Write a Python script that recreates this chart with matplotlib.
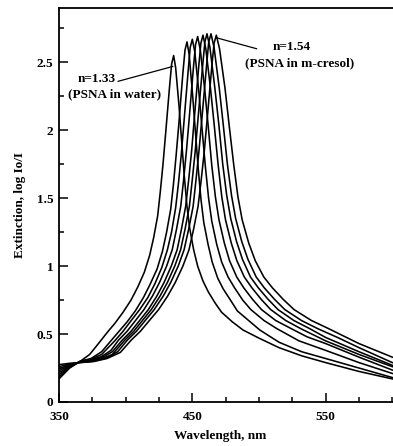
import matplotlib
matplotlib.use('Agg')
import matplotlib.pyplot as plt
from matplotlib.ticker import MultipleLocator, FormatStrFormatter

plt.rcParams['font.family'] = ['Liberation Serif', 'DejaVu Serif']
plt.rcParams['font.weight'] = 'bold'

# extinction spectra, from n = 1.33 (water) up to n = 1.54 (m-cresol)
wl_c1 = [350, 358, 366, 373, 380, 386, 392, 398, 404, 409, 414, 418, 421, 424, 426, 428, 430, 433, 434.5, 436,
         437.5, 440, 442, 444, 446, 448, 451, 454, 458, 462, 467, 472, 480, 488,
         500, 515, 532, 550, 575, 600]
ext_c1 = [0.17, 0.25, 0.30, 0.35, 0.435, 0.51, 0.58, 0.66, 0.75, 0.845, 0.955, 1.08, 1.21, 1.37, 1.55, 1.75, 1.98,
          2.33, 2.49, 2.55,
          2.46, 2.18, 1.92, 1.66, 1.44, 1.28, 1.12, 1.00, 0.89, 0.81, 0.73, 0.66, 0.59, 0.53,
          0.47, 0.40, 0.34, 0.29, 0.225, 0.17]

wl_c2 = [350, 358, 366, 374, 382, 388.9, 395.0, 401.1, 407.2, 413.4, 418.5, 423.6, 427.6, 430.7, 433.8, 435.8,
         437.8, 439.9, 442.9, 444.5, 446,
         447.6, 450.2, 452.3, 454.4, 456.5, 458.6, 461.8, 464.9, 469.1, 473.3, 478.6, 483.8, 492.2, 500.6,
         515, 532, 550, 575, 600]
ext_c2 = [0.185, 0.255, 0.30, 0.32, 0.37, 0.45, 0.52, 0.59, 0.67, 0.77, 0.87, 0.98, 1.11, 1.25, 1.42, 1.60,
          1.81, 2.05, 2.42, 2.59, 2.65,
          2.56, 2.26, 1.99, 1.72, 1.49, 1.32, 1.16, 1.03, 0.91, 0.83, 0.75, 0.67, 0.60, 0.53,
          0.44, 0.37, 0.32, 0.25, 0.18]

wl_c3 = [350, 358, 366, 374, 382, 391.8, 398.0, 404.2, 410.5, 416.7, 421.9, 427.1, 431.3, 434.4, 437.5, 439.6,
         441.7, 443.8, 446.9, 448.4, 450,
         451.8, 454.9, 457.3, 459.8, 462.2, 464.6, 468.3, 472.0, 476.8, 481.7, 487.8, 493.9, 503.7, 513.4,
         530, 550, 575, 600]
ext_c3 = [0.20, 0.26, 0.30, 0.315, 0.35, 0.45, 0.52, 0.60, 0.68, 0.77, 0.87, 0.99, 1.12, 1.25, 1.43, 1.61,
          1.82, 2.07, 2.44, 2.61, 2.67,
          2.58, 2.28, 2.01, 1.73, 1.50, 1.33, 1.16, 1.03, 0.92, 0.84, 0.75, 0.68, 0.60, 0.54,
          0.45, 0.38, 0.29, 0.21]

wl_c4 = [350, 358, 366, 374, 382, 389, 394.6, 401.0, 407.4, 413.7, 420.1, 425.4, 430.7, 434.9, 438.1, 441.3,
         443.4, 445.5, 447.6, 450.8, 452.4, 454,
         456.0, 459.3, 462.0, 464.6, 467.3, 470.0, 474.0, 477.9, 483.3, 488.6, 495.2, 501.9, 512.5, 523.2,
         536, 550, 575, 600]
ext_c4 = [0.215, 0.265, 0.298, 0.31, 0.335, 0.38, 0.455, 0.52, 0.60, 0.68, 0.78, 0.88, 1.00, 1.12, 1.27, 1.44,
          1.63, 1.84, 2.08, 2.46, 2.63, 2.69,
          2.59, 2.30, 2.02, 1.74, 1.51, 1.34, 1.17, 1.04, 0.92, 0.84, 0.755, 0.68, 0.60, 0.545,
          0.48, 0.43, 0.33, 0.235]

wl_c5 = [350, 358, 366, 374, 382, 390, 397.5, 404.0, 410.5, 417.0, 423.4, 428.8, 434.2, 438.6, 441.8, 445.0,
         447.2, 449.4, 451.5, 454.8, 456.4, 458,
         460.1, 463.6, 466.5, 469.3, 472.1, 474.9, 479.2, 483.4, 489.0, 494.7, 501.7, 508.8, 520.0, 531.3,
         550, 575, 600]
ext_c5 = [0.23, 0.27, 0.295, 0.305, 0.325, 0.37, 0.456, 0.52, 0.60, 0.68, 0.78, 0.88, 1.00, 1.12, 1.27, 1.44,
          1.63, 1.84, 2.09, 2.47, 2.64, 2.70,
          2.60, 2.31, 2.03, 1.75, 1.51, 1.34, 1.17, 1.04, 0.92, 0.84, 0.755, 0.68, 0.60, 0.54,
          0.45, 0.35, 0.26]

wl_c6 = [350, 358, 366, 374, 382, 390, 399.4, 406.0, 412.6, 419.2, 425.8, 431.3, 436.8, 441.2, 444.5, 447.8,
         450.0, 452.2, 454.4, 457.7, 459.4, 461,
         463.2, 466.9, 469.9, 472.8, 475.8, 478.8, 483.2, 487.6, 493.6, 499.5, 506.9, 514.3, 526.1, 538,
         550, 575, 600]
ext_c6 = [0.245, 0.275, 0.293, 0.30, 0.318, 0.35, 0.456, 0.52, 0.60, 0.68, 0.78, 0.88, 1.00, 1.12, 1.27, 1.44,
          1.64, 1.85, 2.10, 2.47, 2.65, 2.71,
          2.61, 2.31, 2.04, 1.75, 1.52, 1.35, 1.18, 1.05, 0.92, 0.84, 0.755, 0.68, 0.60, 0.54,
          0.475, 0.37, 0.27]

wl_c7 = [350, 358, 366, 376, 386, 394, 401.3, 408.0, 414.7, 421.4, 428.2, 433.8, 439.4, 443.8, 447.2, 450.6,
         452.8, 455.0, 457.3, 460.6, 462.3, 464,
         466.3, 470.2, 473.2, 476.3, 479.4, 482.5, 487.1, 491.7, 497.9, 504.0, 511.7, 519.4, 531.8, 544,
         560, 575, 600]
ext_c7 = [0.26, 0.28, 0.291, 0.30, 0.325, 0.37, 0.456, 0.52, 0.60, 0.68, 0.78, 0.88, 1.00, 1.12, 1.27, 1.44,
          1.64, 1.85, 2.10, 2.47, 2.65, 2.71,
          2.61, 2.31, 2.04, 1.75, 1.52, 1.35, 1.18, 1.05, 0.92, 0.84, 0.755, 0.68, 0.60, 0.54,
          0.47, 0.40, 0.29]

wl_c8 = [350, 358, 366, 376, 386, 396, 404.2, 411.0, 417.8, 424.7, 431.5, 437.2, 442.9, 447.5, 450.9, 454.3,
         456.6, 458.9, 461.2, 464.6, 466.3, 468,
         470.4, 474.5, 477.7, 481.0, 484.2, 487.4, 492.3, 497.2, 503.6, 510.1, 518.2, 526.3, 539.3, 552.2,
         575, 600]
ext_c8 = [0.275, 0.285, 0.29, 0.298, 0.32, 0.365, 0.456, 0.52, 0.60, 0.68, 0.78, 0.88, 1.00, 1.12, 1.27, 1.44,
          1.63, 1.84, 2.09, 2.47, 2.64, 2.70,
          2.60, 2.31, 2.03, 1.75, 1.51, 1.34, 1.17, 1.04, 0.92, 0.84, 0.755, 0.68, 0.60, 0.54,
          0.43, 0.33]

spectra = [(wl_c1, ext_c1), (wl_c2, ext_c2), (wl_c3, ext_c3), (wl_c4, ext_c4),
           (wl_c5, ext_c5), (wl_c6, ext_c6), (wl_c7, ext_c7), (wl_c8, ext_c8)]

fig = plt.figure(figsize=(3.93, 4.46), dpi=100)
ax = fig.add_axes([59 / 393, 44 / 446, 1 - 59 / 393, 394 / 446])

for wl, ext in spectra:
    ax.plot(wl, ext, color='black', lw=1.15)

ax.set_xlim(350, 600.5)
ax.set_ylim(0, 2.9)
ax.xaxis.set_major_locator(MultipleLocator(100, offset=50))
ax.xaxis.set_minor_locator(MultipleLocator(25))
ax.yaxis.set_major_locator(MultipleLocator(0.5))
ax.yaxis.set_minor_locator(MultipleLocator(0.25))
ax.yaxis.set_major_formatter(FormatStrFormatter('%g'))
ax.tick_params(which='major', direction='in', length=6.5, width=1.1, labelsize=9.5, pad=4)
ax.tick_params(which='minor', direction='in', length=3.6, width=1.1)
ax.tick_params(axis='x', which='major', pad=6.5)
ax.spines['right'].set_visible(False)
for s in ['left', 'bottom', 'top']:
    ax.spines[s].set_linewidth(1.3)

ax.set_xlabel('Wavelength, nm', fontsize=9.5, fontweight='bold')
ax.set_ylabel('Extinction, log Io/I', fontsize=9.5, fontweight='bold')
ax.xaxis.set_label_coords(0.482, -0.072)
ax.yaxis.set_label_coords(-0.10, 0.5)

# labels for the first and the last spectrum
ax.annotate('', xy=(435.4, 2.47), xytext=(394.2, 2.36),
            arrowprops=dict(arrowstyle='-', lw=0.9, color='black', shrinkA=0, shrinkB=0))
ax.text(378.5, 2.38, 'n=1.33', ha='center', va='center', fontsize=9.5, fontweight='bold')
ax.text(392, 2.265, '(PSNA in water)', ha='center', va='center', fontsize=9.5, fontweight='bold')

ax.annotate('', xy=(468.4, 2.68), xytext=(498.3, 2.60),
            arrowprops=dict(arrowstyle='-', lw=0.9, color='black', shrinkA=0, shrinkB=0))
ax.text(524.5, 2.61, 'n=1.54', ha='center', va='center', fontsize=9.5, fontweight='bold')
ax.text(530.5, 2.49, '(PSNA in m-cresol)', ha='center', va='center', fontsize=9.5, fontweight='bold')

fig.savefig('out.png', dpi=100)
